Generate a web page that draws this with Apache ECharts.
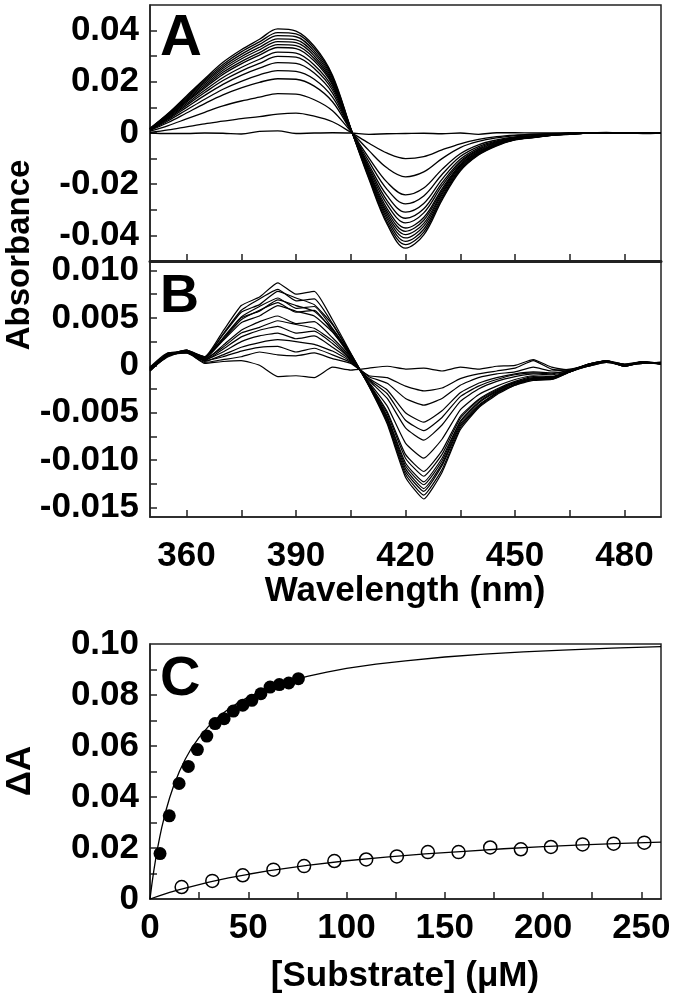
<!DOCTYPE html>
<html><head><meta charset="utf-8">
<script src="https://cdn.jsdelivr.net/npm/echarts@6/dist/echarts.min.js"></script>
<style>html,body{margin:0;padding:0;background:#fff}#c{width:675px;height:1002px}</style>
</head><body><div id="c"></div>
<script>
// ---------- Panel A / B: wavelengths (nm) ----------
const wavelengths = [350,355,360,365,370,375,380,385,390,395,400,405,410,415,420,425,430,435,440,445,450,455,460,465,470,475,480,485,490];

// Panel A difference spectra (absorbance)
const a01 = [0,-.0002,-.0002,0,-.0001,-.0004,.0006,.0008,-.0002,0,.0001,0,-.0005,-.0003,-.0002,-.0001,-.0003,0,-.0005,.0001,.0001,0,0,.0001,0,.0002,0,-.0002,0];
const a02 = [.0002,.0012,.0024,.0036,.0046,.0056,.0064,.0074,.0078,.0066,.0044,.0003,-.0040,-.0079,-.0100,-.0092,-.0066,-.0042,-.0025,-.0014,-.0008,-.0005,-.0003,-.0001,0,.0001,0,-.0001,0];
const a03 = [.0007,.0029,.0055,.0081,.0106,.0125,.0140,.0154,.0152,.0130,.0087,.0007,-.0069,-.0137,-.0171,-.0152,-.0100,-.0057,-.0033,-.0019,-.0010,-.0007,-.0003,-.0002,0,0,.0001,0,0];
const a04 = [.0010,.0041,.0078,.0115,.0149,.0176,.0198,.0212,.0210,.0183,.0122,.0010,-.0098,-.0193,-.0242,-.0215,-.0142,-.0081,-.0046,-.0027,-.0015,-.0010,-.0005,-.0002,0,.0001,0,-.0001,0];
const a05 = [.0011,.0048,.0090,.0132,.0171,.0202,.0227,.0244,.0241,.0210,.0140,.0011,-.0112,-.0221,-.0277,-.0246,-.0162,-.0092,-.0053,-.0031,-.0017,-.0011,-.0006,-.0003,0,0,.0001,0,0];
const a06 = [.0012,.0053,.0100,.0147,.0190,.0225,.0253,.0275,.0272,.0234,.0156,.0012,-.0125,-.0246,-.0309,-.0275,-.0181,-.0103,-.0059,-.0034,-.0019,-.0012,-.0006,-.0003,0,.0001,0,0,0];
const a07 = [.0013,.0057,.0108,.0158,.0205,.0242,.0272,.0299,.0296,.0252,.0168,.0013,-.0134,-.0265,-.0333,-.0296,-.0195,-.0111,-.0064,-.0037,-.0020,-.0013,-.0007,-.0003,0,0,0,-.0001,0];
const a08 = [.0014,.0060,.0114,.0167,.0217,.0256,.0288,.0316,.0312,.0266,.0178,.0014,-.0142,-.0280,-.0351,-.0312,-.0206,-.0117,-.0067,-.0039,-.0021,-.0014,-.0007,-.0004,0,.0001,0,0,0];
const a09 = [.0015,.0064,.0120,.0176,.0229,.0270,.0304,.0334,.0330,.0281,.0188,.0015,-.0150,-.0296,-.0371,-.0330,-.0218,-.0124,-.0071,-.0041,-.0023,-.0015,-.0008,-.0004,0,0,.0001,0,0];
const a10 = [.0016,.0066,.0124,.0182,.0237,.0279,.0314,.0345,.0341,.0291,.0194,.0016,-.0155,-.0307,-.0384,-.0341,-.0225,-.0128,-.0074,-.0043,-.0023,-.0016,-.0008,-.0004,0,.0001,0,0,0];
const a11 = [.0016,.0068,.0128,.0188,.0245,.0289,.0325,.0357,.0353,.0301,.0201,.0016,-.0160,-.0317,-.0397,-.0353,-.0233,-.0132,-.0076,-.0044,-.0024,-.0016,-.0008,-.0004,0,0,0,-.0001,0];
const a12 = [.0017,.0070,.0132,.0195,.0253,.0298,.0335,.0368,.0364,.0311,.0207,.0017,-.0166,-.0327,-.0410,-.0364,-.0240,-.0137,-.0079,-.0046,-.0025,-.0017,-.0008,-.0004,0,.0001,0,0,0];
const a13 = [.0017,.0073,.0137,.0201,.0260,.0307,.0346,.0380,.0376,.0320,.0214,.0017,-.0171,-.0337,-.0423,-.0376,-.0248,-.0141,-.0081,-.0047,-.0026,-.0017,-.0009,-.0004,0,0,.0001,0,0];
const a14 = [.0018,.0075,.0141,.0207,.0268,.0317,.0356,.0392,.0387,.0330,.0220,.0018,-.0176,-.0348,-.0436,-.0387,-.0255,-.0145,-.0084,-.0048,-.0026,-.0018,-.0009,-.0004,0,.0001,0,0,0];
const a15 = [.0018,.0077,.0145,.0212,.0276,.0325,.0366,.0407,.0398,.0339,.0226,.0018,-.0181,-.0357,-.0450,-.0398,-.0262,-.0149,-.0086,-.0050,-.0027,-.0018,-.0009,-.0005,0,0,0,-.0001,0];
const spectraA = [a01,a02,a03,a04,a05,a06,a07,a08,a09,a10,a11,a12,a13,a14,a15];

// Panel B difference spectra (absorbance)
const b01 = [-.0003,.0010,.0014,.0002,.0004,.0005,0,-.0012,-.0011,-.0013,-.0002,-.0005,-.0003,-.0001,-.0004,-.0003,-.0006,-.0002,-.0004,-.0001,0,.0006,-.0002,-.0005,0,.0004,0,.0003,.0002];
const b02 = [-.0002,.0011,.0013,.0003,.0006,.0009,.0014,.0011,.0010,.0013,.0007,.0002,-.0011,-.0013,-.0022,-.0027,-.0024,-.0014,-.0009,-.0006,-.0003,.0005,-.0004,-.0005,.0001,.0004,-.0001,.0003,.0002];
const b03 = [-.0004,.0009,.0015,.0005,.0009,.0015,.0019,.0020,.0014,.0018,.0011,.0003,-.0012,-.0019,-.0035,-.0042,-.0035,-.0021,-.0013,-.0009,-.0007,-.0002,-.0006,-.0004,0,.0005,.0001,.0002,.0003];
const b04 = [-.0003,.0012,.0014,.0004,.0011,.0019,.0024,.0027,.0025,.0022,.0015,.0004,-.0014,-.0026,-.0050,-.0060,-.0048,-.0029,-.0019,-.0013,-.0009,-.0007,-.0008,-.0006,-.0001,.0003,0,.0004,.0001];
const b05 = [-.0005,.0010,.0016,.0006,.0014,.0025,.0031,.0034,.0028,.0031,.0019,.0005,-.0015,-.0030,-.0058,-.0069,-.0055,-.0033,-.0022,-.0015,-.0010,-.0008,-.0009,-.0005,0,.0005,-.0001,.0003,.0002];
const b06 = [-.0002,.0013,.0013,.0005,.0017,.0030,.0037,.0041,.0034,.0036,.0023,.0006,-.0016,-.0035,-.0066,-.0079,-.0063,-.0038,-.0025,-.0017,-.0012,-.0009,-.0010,-.0006,.0001,.0004,0,.0002,.0003];
const b07 = [-.0004,.0011,.0015,.0007,.0019,.0034,.0040,.0047,.0043,.0039,.0026,.0007,-.0018,-.0043,-.0082,-.0098,-.0078,-.0047,-.0031,-.0022,-.0015,-.0011,-.0012,-.0006,-.0001,.0003,.0001,.0004,.0002];
const b08 = [-.0003,.0012,.0014,.0006,.0021,.0037,.0046,.0052,.0044,.0046,.0029,.0008,-.0019,-.0049,-.0094,-.0112,-.0090,-.0054,-.0036,-.0025,-.0017,-.0012,-.0013,-.0007,0,.0004,0,.0003,.0001];
const b09 = [-.0006,.0011,.0016,.0008,.0026,.0045,.0052,.0063,.0057,.0052,.0035,.0009,-.0020,-.0051,-.0098,-.0117,-.0094,-.0056,-.0037,-.0026,-.0018,-.0013,-.0013,-.0006,.0001,.0005,-.0001,.0003,.0002];
const b10 = [-.0004,.0013,.0014,.0007,.0027,.0048,.0058,.0066,.0056,.0058,.0036,.0010,-.0020,-.0054,-.0103,-.0123,-.0098,-.0059,-.0039,-.0027,-.0018,-.0014,-.0013,-.0007,0,.0004,.0001,.0002,.0003];
const b11 = [-.0005,.0010,.0015,.0009,.0028,.0050,.0057,.0069,.0063,.0057,.0038,.0010,-.0021,-.0055,-.0106,-.0126,-.0101,-.0060,-.0040,-.0028,-.0019,-.0014,-.0014,-.0006,.0001,.0005,0,.0004,.0001];
const b12 = [-.0003,.0012,.0013,.0008,.0029,.0051,.0062,.0071,.0060,.0062,.0039,.0011,-.0021,-.0057,-.0109,-.0130,-.0104,-.0062,-.0042,-.0029,-.0020,-.0014,-.0014,-.0007,-.0001,.0004,.0001,.0003,.0002];
const b13 = [-.0006,.0011,.0016,.0009,.0032,.0056,.0064,.0078,.0071,.0064,.0043,.0012,-.0021,-.0059,-.0112,-.0133,-.0106,-.0064,-.0043,-.0029,-.0020,-.0015,-.0014,-.0006,0,.0004,0,.0003,.0002];
const b14 = [-.0004,.0012,.0015,.0008,.0033,.0058,.0070,.0080,.0068,.0070,.0044,.0012,-.0022,-.0060,-.0115,-.0137,-.0110,-.0066,-.0044,-.0030,-.0021,-.0015,-.0015,-.0007,.0001,.0005,-.0001,.0004,.0002];
const b15 = [-.0005,.0013,.0014,.0009,.0036,.0063,.0072,.0087,.0075,.0078,.0048,.0013,-.0022,-.0062,-.0118,-.0141,-.0113,-.0068,-.0045,-.0031,-.0021,-.0016,-.0015,-.0007,0,.0004,0,.0003,.0002];
const spectraB = [b01,b02,b03,b04,b05,b06,b07,b08,b09,b10,b11,b12,b13,b14,b15];

// Panel C: titration
const substrateFilled = [5.1,9.8,14.8,19.5,24.1,28.9,33.1,37.7,42.4,47.2,51.8,56.4,61.1,65.8,70.6,75.5];
const deltaAFilled   = [0.0178,0.0326,0.0453,0.0520,0.0586,0.0639,0.0688,0.0707,0.0737,0.0760,0.0779,0.0805,0.0831,0.0841,0.0847,0.0864];
const substrateOpen  = [16.1,31.7,47.2,62.8,78.4,93.8,110,125.6,141.4,157,173.1,188.7,204,220.1,235.9,251.5];
const deltaAOpen     = [0.0047,0.0071,0.0093,0.0115,0.0129,0.0149,0.0155,0.0167,0.0184,0.0184,0.0202,0.0195,0.0204,0.0214,0.0217,0.0221];
// fitted binding curves
const fitFilledX = [0,0.5,1,1.5,2,3,4,5,6,8,10,12,15,18,21,25,30,35,40,45,50,60,70,80,90,100,115,130,150,170,190,210,235,260];
const fitFilledY = [0,.0031,.0060,.0088,.0114,.0162,.0205,.0245,.0281,.0344,.0397,.0443,.0501,.0549,.0590,.0634,.0679,.0716,.0745,.0770,.0792,.0826,.0852,.0873,.0890,.0904,.0921,.0934,.0949,.0960,.0969,.0976,.0984,.0990];
const fitOpenX = [0,5,10,15,20,30,40,50,60,80,100,120,140,160,180,200,220,240,260];
const fitOpenY = [0,.0013,.0026,.0037,.0047,.0066,.0083,.0097,.0110,.0132,.0150,.0164,.0177,.0187,.0197,.0205,.0212,.0218,.0223];

// Tick values
const wlTicks  = [360,375,390,405,420,435,450,465,480];
const wlLabels = [360,390,420,450,480];
const aTicks  = [-0.04,-0.03,-0.02,-0.01,0,0.01,0.02,0.03,0.04];
const aLabels = [-0.04,-0.02,0,0.02,0.04];
const bTicks  = [-0.015,-0.0125,-0.01,-0.0075,-0.005,-0.0025,0,0.0025,0.005,0.0075,0.01];
const bLabels = [-0.015,-0.01,-0.005,0,0.005,0.01];
const cxTicks  = [25,50,75,100,125,150,175,200,225,250];
const cxLabels = [0,50,100,150,200,250];
const cyTicks  = [0.01,0.02,0.03,0.04,0.05,0.06,0.07,0.08,0.09];
const cyLabels = [0,0.02,0.04,0.06,0.08,0.10];

// ---------- chart ----------
const FONT = '"Liberation Sans", Arial, sans-serif';
const TXT = {fontFamily: FONT, fontWeight: 'bold', fontSize: 35, color: '#000'};
const zip = (xs, ys) => xs.map((x, i) => [x, ys[i]]);
const AX = '#222';

function xAx(grid, min, max, ticks, labels, showLabels, margin, lineW) {
  return {
    type: 'value', gridIndex: grid, min: min, max: max,
    axisLine: {show: true, onZero: false, lineStyle: {color: AX, width: lineW}},
    axisTick: {show: true, inside: true, length: 7, lineStyle: {color: AX, width: 1.5}, customValues: ticks},
    axisLabel: Object.assign({show: showLabels, margin: margin, customValues: labels}, TXT),
    splitLine: {show: false}
  };
}
function yAx(grid, min, max, ticks, labels, digits) {
  return {
    type: 'value', gridIndex: grid, min: min, max: max,
    axisLine: {show: true, onZero: false, lineStyle: {color: AX, width: 1.5}},
    axisTick: {show: true, inside: true, length: 7, lineStyle: {color: AX, width: 1.5}, customValues: ticks},
    axisLabel: Object.assign({show: true, margin: 11, customValues: labels,
      formatter: v => (Math.abs(v) < 1e-9 ? '0' : v.toFixed(digits))}, TXT),
    splitLine: {show: false}
  };
}

const series = [];
spectraA.forEach(s => series.push({
  type: 'line', xAxisIndex: 0, yAxisIndex: 0, data: zip(wavelengths, s),
  showSymbol: false, smooth: 0.35, silent: true, lineStyle: {color: '#000', width: 1.3}
}));
spectraB.forEach(s => series.push({
  type: 'line', xAxisIndex: 1, yAxisIndex: 1, data: zip(wavelengths, s),
  showSymbol: false, smooth: 0.15, silent: true, lineStyle: {color: '#000', width: 1.2}
}));
series.push({type: 'line', xAxisIndex: 2, yAxisIndex: 2, data: zip(fitFilledX, fitFilledY),
  showSymbol: false, smooth: false, silent: true, lineStyle: {color: '#000', width: 1.3}, z: 2});
series.push({type: 'line', xAxisIndex: 2, yAxisIndex: 2, data: zip(fitOpenX, fitOpenY),
  showSymbol: false, smooth: false, silent: true, lineStyle: {color: '#000', width: 1.3}, z: 2});
series.push({type: 'scatter', xAxisIndex: 2, yAxisIndex: 2, data: zip(substrateFilled, deltaAFilled),
  symbol: 'circle', symbolSize: 13, itemStyle: {color: '#000', opacity: 1}, silent: true, z: 3});
series.push({type: 'scatter', xAxisIndex: 2, yAxisIndex: 2, data: zip(substrateOpen, deltaAOpen),
  symbol: 'circle', symbolSize: 13, itemStyle: {color: 'rgba(0,0,0,0)', borderColor: '#000', borderWidth: 1.5, opacity: 1}, silent: true, z: 3});

const gridBox = {show: true, borderColor: AX, borderWidth: 1.5, backgroundColor: 'transparent', containLabel: false};
const option = {
  animation: false,
  backgroundColor: '#fff',
  grid: [
    Object.assign({left: 150, top: 5, width: 511, height: 256}, gridBox),
    Object.assign({left: 150, top: 261, width: 511, height: 256}, gridBox),
    Object.assign({left: 150, top: 644, width: 511, height: 255}, gridBox)
  ],
  xAxis: [
    xAx(0, 350, 490, wlTicks, wlLabels, false, 20, 3),
    xAx(1, 350, 490, wlTicks, wlLabels, true, 22, 1.5),
    xAx(2, 0, 260, cxTicks, cxLabels, true, 12, 1.5)
  ],
  yAxis: [
    yAx(0, -0.05, 0.05, aTicks, aLabels, 2),
    yAx(1, -0.016, 0.011, bTicks, bLabels, 3),
    yAx(2, 0, 0.1, cyTicks, cyLabels, 2)
  ],
  series: series,
  graphic: [
    {type: 'text', left: 160, top: 10, style: {text: 'A', font: 'bold 58px ' + FONT, fill: '#000'}},
    {type: 'text', left: 160, top: 270, style: {text: 'B', font: 'bold 54px ' + FONT, fill: '#000'}},
    {type: 'text', left: 160, top: 652, style: {text: 'C', font: 'bold 56px ' + FONT, fill: '#000'}},
    {type: 'text', x: 20, y: 255, rotation: Math.PI / 2,
      style: {text: 'Absorbance', font: 'bold 33px ' + FONT, fill: '#000', textAlign: 'center', textVerticalAlign: 'middle'}},
    {type: 'text', x: 20, y: 771, rotation: Math.PI / 2,
      style: {text: 'ΔA', font: 'bold 35px ' + FONT, fill: '#000', textAlign: 'center', textVerticalAlign: 'middle'}},
    {type: 'text', x: 405, y: 591,
      style: {text: 'Wavelength (nm)', font: 'bold 35px ' + FONT, fill: '#000', textAlign: 'center', textVerticalAlign: 'middle'}},
    {type: 'text', x: 405, y: 976,
      style: {text: '[Substrate] (μM)', font: 'bold 35px ' + FONT, fill: '#000', textAlign: 'center', textVerticalAlign: 'middle'}}
  ]
};
const chart = echarts.init(document.getElementById('c'), null, {renderer: 'canvas'});
chart.setOption(option);
</script></body></html>
